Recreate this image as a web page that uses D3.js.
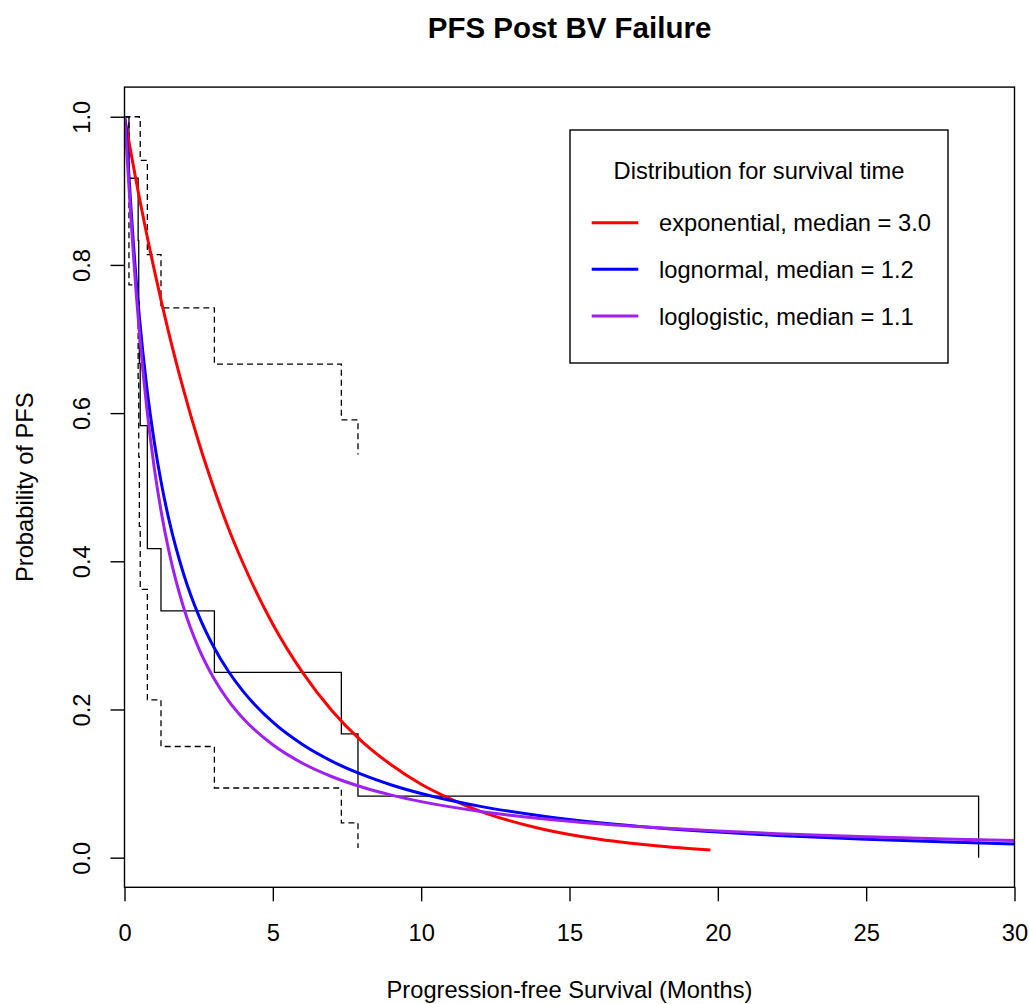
<!DOCTYPE html>
<html>
<head>
<meta charset="utf-8">
<script src="https://cdn.jsdelivr.net/npm/d3@7"></script>
<style>
  html, body { margin: 0; padding: 0; background: #fff; }
  svg { display: block; font-family: "Liberation Sans", Arial, Helvetica, sans-serif; }
</style>
</head>
<body>
<script>
// ---------- data ----------
const chartTitle = "PFS Post BV Failure";
const xLabel = "Progression-free Survival (Months)";
const yLabel = "Probability of PFS";
const xTicks = [0, 5, 10, 15, 20, 25, 30];
const yTicks = [0.0, 0.2, 0.4, 0.6, 0.8, 1.0];

// Kaplan-Meier estimate (step function)
const kmTime = [0, 0.15, 0.46, 0.48, 0.50, 0.53, 0.77, 1.23, 3.03, 7.31, 7.87, 28.79];
const kmSurv = [1, 0.917, 0.833, 0.750, 0.667, 0.583, 0.417, 0.333, 0.250, 0.167, 0.083, 0];
// confidence band (dashed), drawn up to the last step where it exists
const ciUpper = [1, 1, 1, 1, 0.995, 0.941, 0.814, 0.742, 0.666, 0.591, 0.544];
const ciLower = [1, 0.773, 0.647, 0.541, 0.447, 0.362, 0.213, 0.150, 0.094, 0.047, 0.013];

// fitted curves
const expTime = [0, 0.5, 1, 1.5, 2, 2.5, 3, 3.5, 4, 5, 6, 7, 8, 9, 10, 11, 12, 13, 14, 15, 16, 17, 18, 19, 19.75];
const expSurv = [1, 0.891, 0.794, 0.707, 0.630, 0.561, 0.500, 0.445, 0.397, 0.315, 0.250, 0.198, 0.157, 0.125, 0.099, 0.079, 0.0625, 0.0496, 0.0394, 0.0313, 0.0248, 0.0197, 0.0156, 0.0124, 0.0104];

const fitTime = [0, 0.05, 0.1, 0.2, 0.3, 0.4, 0.5, 0.75, 1, 1.25, 1.5, 2, 2.5, 3, 3.5, 4, 5, 6, 7, 8, 9, 10, 12, 14, 16, 18, 20, 22, 25, 28, 30, 32];
const lnormSurv = [1, 0.9835, 0.9529, 0.8882, 0.8289, 0.7765, 0.7301, 0.6353, 0.5621, 0.5037, 0.4558, 0.3819, 0.3271, 0.2850, 0.2516, 0.2244, 0.1828, 0.1527, 0.1300, 0.1123, 0.0981, 0.0866, 0.0692, 0.0567, 0.0473, 0.0401, 0.0345, 0.0300, 0.0247, 0.0207, 0.0185, 0.0167];
const llogSurv = [1, 0.971, 0.938, 0.874, 0.8135, 0.759, 0.710, 0.607, 0.527, 0.464, 0.413, 0.3367, 0.2827, 0.2427, 0.212, 0.1879, 0.1523, 0.1274, 0.1092, 0.0953, 0.0844, 0.0756, 0.0624, 0.0529, 0.0458, 0.0403, 0.0359, 0.0324, 0.0281, 0.0248, 0.0230, 0.0214];

const legendTitle = "Distribution for survival time";
const legendLabels = ["exponential, median = 3.0", "lognormal, median = 1.2", "loglogistic, median = 1.1"];
const legendColors = ["#FF0000", "#0000FF", "#A020F0"];

// ---------- layout ----------
const W = 1029, H = 1004;
const svg = d3.select("body").append("svg").attr("width", W).attr("height", H);
svg.append("rect").attr("width", W).attr("height", H).attr("fill", "#fff");

const x = d3.scaleLinear().domain([0, 30]).range([124.5, 1014.5]);
const y = d3.scaleLinear().domain([-0.04, 1.04]).range([887.3, 87.1]);
const FS = 23.7;

svg.append("defs").append("clipPath").attr("id", "plotclip")
  .append("rect").attr("x", x(0)).attr("y", y(1.04)).attr("width", x(30) - x(0)).attr("height", y(-0.04) - y(1.04));

const plot = svg.append("g").attr("clip-path", "url(#plotclip)");

const lineStep = d3.line().x(d => x(d[0])).y(d => y(d[1])).curve(d3.curveStepAfter);
const lineSmooth = d3.line().x(d => x(d[0])).y(d => y(d[1])).curve(d3.curveMonotoneX);

// KM
plot.append("path").datum(kmTime.map((t, i) => [t, kmSurv[i]]))
  .attr("d", lineStep).attr("fill", "none").attr("stroke", "#000").attr("stroke-width", 1.3);
plot.append("path").datum(ciUpper.map((v, i) => [kmTime[i], v]))
  .attr("d", lineStep).attr("fill", "none").attr("stroke", "#000").attr("stroke-width", 1.3).attr("stroke-dasharray", "6,4");
plot.append("path").datum(ciLower.map((v, i) => [kmTime[i], v]))
  .attr("d", lineStep).attr("fill", "none").attr("stroke", "#000").attr("stroke-width", 1.3).attr("stroke-dasharray", "6,4");

// fitted curves
plot.append("path").datum(expTime.map((t, i) => [t, expSurv[i]]))
  .attr("d", lineSmooth).attr("fill", "none").attr("stroke", legendColors[0]).attr("stroke-width", 3);
plot.append("path").datum(fitTime.map((t, i) => [t, lnormSurv[i]]))
  .attr("d", lineSmooth).attr("fill", "none").attr("stroke", legendColors[1]).attr("stroke-width", 3);
plot.append("path").datum(fitTime.map((t, i) => [t, llogSurv[i]]))
  .attr("d", lineSmooth).attr("fill", "none").attr("stroke", legendColors[2]).attr("stroke-width", 3);

// box
svg.append("rect").attr("x", x(0)).attr("y", y(1.04)).attr("width", x(30) - x(0)).attr("height", y(-0.04) - y(1.04))
  .attr("fill", "none").attr("stroke", "#000").attr("stroke-width", 1.4);

// axes
const xAxis = d3.axisBottom(x).tickValues(xTicks).tickSize(14).tickPadding(0).tickFormat(d3.format("d"));
const gx = svg.append("g").attr("transform", `translate(0,${y(-0.04)})`).call(xAxis);
gx.select(".domain").remove();
gx.selectAll(".tick line").attr("stroke", "#000").attr("stroke-width", 1.4);
gx.selectAll(".tick text").attr("font-size", FS).attr("font-family", "Liberation Sans, Arial, sans-serif")
  .attr("fill", "#000").attr("dy", null).attr("y", 941 - y(-0.04));

const yAxis = d3.axisLeft(y).tickValues(yTicks).tickSize(14).tickFormat(d3.format(".1f"));
const gy = svg.append("g").attr("transform", `translate(${x(0)},0)`).call(yAxis);
gy.select(".domain").remove();
gy.selectAll(".tick line").attr("stroke", "#000").attr("stroke-width", 1.4);
gy.selectAll(".tick text").attr("font-size", FS).attr("font-family", "Liberation Sans, Arial, sans-serif")
  .attr("fill", "#000").attr("dy", null).attr("x", null)
  .attr("text-anchor", "middle")
  .attr("transform", `translate(${90 - x(0)},0) rotate(-90)`);

// titles
svg.append("text").attr("x", (x(0) + x(30)) / 2).attr("y", 38).attr("text-anchor", "middle")
  .attr("font-size", 29.5).attr("font-weight", "bold").attr("fill", "#000").text(chartTitle);
svg.append("text").attr("x", (x(0) + x(30)) / 2).attr("y", 998).attr("text-anchor", "middle")
  .attr("font-size", FS).attr("fill", "#000").text(xLabel);
svg.append("text").attr("transform", `translate(33,${(y(-0.04) + y(1.04)) / 2}) rotate(-90)`)
  .attr("text-anchor", "middle").attr("font-size", FS).attr("fill", "#000").text(yLabel);

// legend
const lg = svg.append("g");
lg.append("rect").attr("x", 570).attr("y", 130).attr("width", 378).attr("height", 233)
  .attr("fill", "#fff").attr("stroke", "#000").attr("stroke-width", 1.4);
lg.append("text").attr("x", 759).attr("y", 178.5).attr("text-anchor", "middle")
  .attr("font-size", FS).attr("fill", "#000").text(legendTitle);
const rowY = d3.scalePoint().domain(d3.range(legendLabels.length)).range([222.7, 316]);
legendLabels.forEach((lab, i) => {
  lg.append("line").attr("x1", 591.7).attr("x2", 638.3).attr("y1", rowY(i)).attr("y2", rowY(i))
    .attr("stroke", legendColors[i]).attr("stroke-width", 3);
  lg.append("text").attr("x", 659).attr("y", rowY(i) + 8.5).attr("font-size", FS).attr("fill", "#000").text(lab);
});
</script>
</body>
</html>
